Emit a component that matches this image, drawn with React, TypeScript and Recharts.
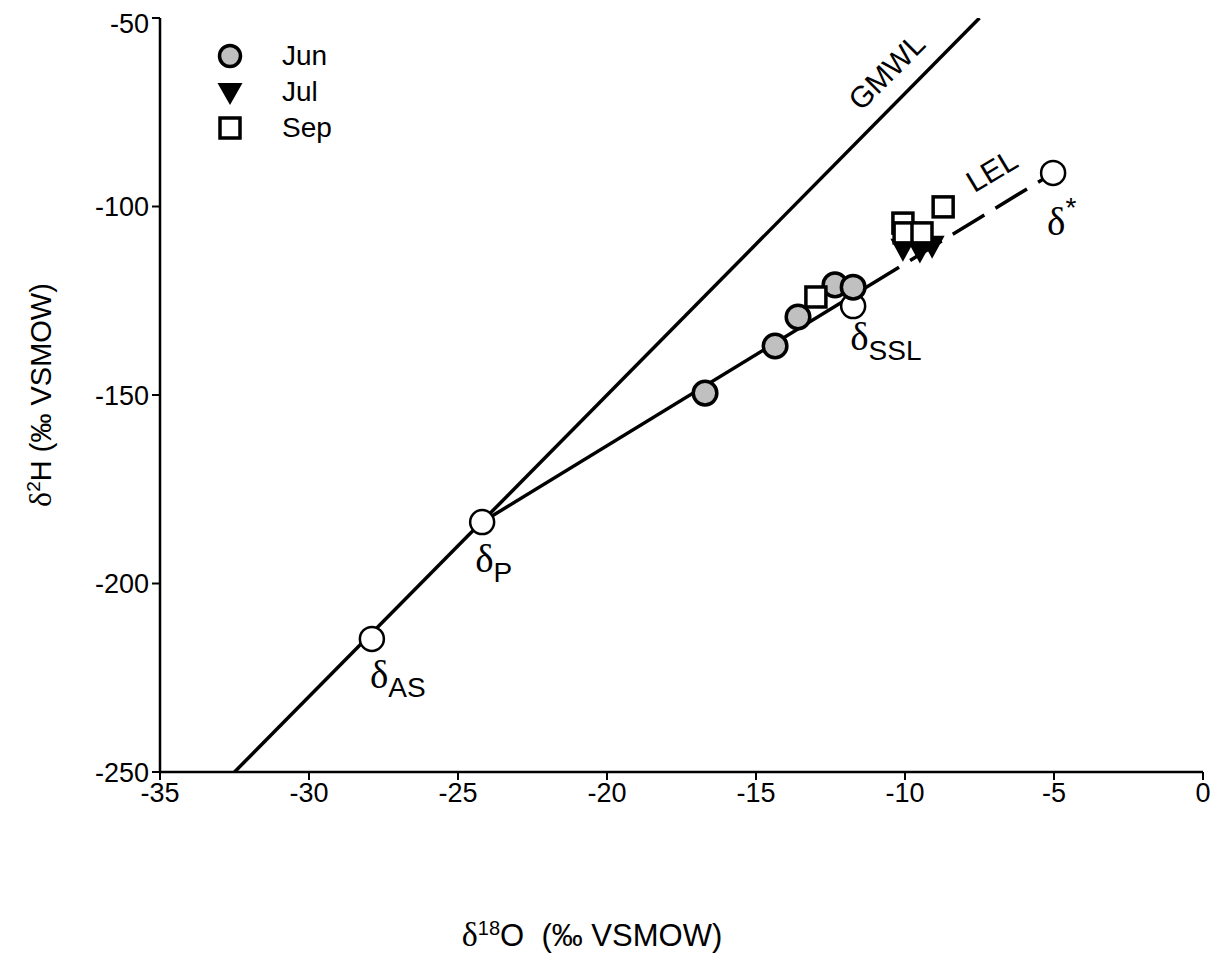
import React from 'react';
import { ComposedChart, Scatter, Line, XAxis, YAxis } from 'recharts';

const X_TICKS = [-35, -30, -25, -20, -15, -10, -5, 0];
const Y_TICKS = [-250, -200, -150, -100, -50];

const JUN = [
  { x: -16.71, y: -149.5 },
  { x: -14.36, y: -137.0 },
  { x: -13.59, y: -129.3 },
  { x: -12.35, y: -120.8 },
  { x: -11.74, y: -121.4 },
];
const JUL = [
  { x: -10.07, y: -111.2 },
  { x: -9.5, y: -111.7 },
  { x: -9.09, y: -110.4 },
];
const SEP = [
  { x: -12.99, y: -124.0 },
  { x: -10.07, y: -104.4 },
  { x: -10.03, y: -107.0 },
  { x: -9.43, y: -107.0 },
  { x: -8.72, y: -100.1 },
];
const END_MEMBERS = [
  { x: -27.89, y: -214.7, name: 'AS' },
  { x: -24.19, y: -183.7, name: 'P' },
  { x: -11.74, y: -126.4, name: 'SSL' },
  { x: -5.03, y: -91.1, name: '*' },
];
const GMWL = [
  { x: -32.5, y: -250 },
  { x: -7.5, y: -50 },
];
const LEL_SOLID = [
  { x: -24.19, y: -183.7 },
  { x: -10.2, y: -116.1 },
];
const LEL_DASHED = [
  { x: -10.2, y: -116.1 },
  { x: -5.03, y: -91.1 },
];

const SANS = 'Arial, "Liberation Sans", sans-serif';
const SERIF = '"Times New Roman", "Liberation Serif", serif';

// where each delta label sits relative to its point
const LABEL_POS: Record<string, { dx: number; dy: number; sub: number }> = {
  AS: { dx: -2, dy: 49, sub: 9 },
  P: { dx: -7, dy: 50, sub: 10 },
  SSL: { dx: -3, dy: 44, sub: 10 },
  '*': { dx: -6, dy: 62, sub: -18 },
};

const JunDot = (p: any) => (
  <circle cx={p.cx} cy={p.cy} r={11.8} fill="#c0c0c0" stroke="#000" strokeWidth={3.5} />
);

const JulDot = (p: any) => (
  <polygon
    points={`${p.cx - 12.5},${p.cy - 10} ${p.cx + 12.5},${p.cy - 10} ${p.cx},${p.cy + 13}`}
    fill="#000"
  />
);

const SepDot = (p: any) => (
  <rect x={p.cx - 10} y={p.cy - 10} width={20} height={20} fill="#fff" stroke="#000" strokeWidth={3.5} />
);

const MemberDot = (p: any) => {
  const name = p.payload?.name ?? p.name;
  const pos = LABEL_POS[name];
  return (
    <g>
      <circle cx={p.cx} cy={p.cy} r={12} fill="#fff" stroke="#000" strokeWidth={2.5} />
      {pos && (
        <text x={p.cx + pos.dx} y={p.cy + pos.dy} fontFamily={SERIF} fontSize={39} fill="#000">
          δ
          <tspan fontFamily={SANS} fontSize={28} dy={pos.sub}>
            {name}
          </tspan>
        </text>
      )}
    </g>
  );
};

const tickStyle = { fill: '#000', fontSize: 27, fontFamily: SANS };

function LegendBox() {
  const row = (icon: React.ReactNode, label: string, top: number) => (
    <div style={{ position: 'absolute', left: 208, top: top - 14, height: 28, display: 'flex', alignItems: 'center' }}>
      <svg width={28} height={28}>{icon}</svg>
      <span style={{ marginLeft: 38, fontSize: 28, fontFamily: SANS }}>{label}</span>
    </div>
  );
  return (
    <>
      {row(<circle cx={14} cy={14} r={10.5} fill="#c0c0c0" stroke="#000" strokeWidth={3.5} />, 'Jun', 48)}
      {row(<polygon points="1.5,5 26.5,5 14,27" fill="#000" />, 'Jul', 84)}
      {row(<rect x={4} y={4} width={20} height={20} fill="#fff" stroke="#000" strokeWidth={3.5} />, 'Sep', 120)}
    </>
  );
}

export default function App() {
  return (
    <div style={{ position: 'relative', width: 1211, height: 947, fontFamily: SANS }}>
      <ComposedChart
        width={1211}
        height={947}
        margin={{ top: 10, right: 16, left: 92, bottom: 153 }}
      >
        <XAxis
          type="number"
          dataKey="x"
          domain={[-35, 0]}
          ticks={X_TICKS}
          allowDataOverflow
          height={30}
          tickSize={8}
          tickMargin={3}
          tick={tickStyle}
          axisLine={{ stroke: '#000', strokeWidth: 2.5 }}
          tickLine={{ stroke: '#000', strokeWidth: 2 }}
        />
        <YAxis
          type="number"
          dataKey="y"
          domain={[-250, -50]}
          ticks={Y_TICKS}
          allowDataOverflow
          width={60}
          tickSize={8}
          tickMargin={3}
          tick={tickStyle}
          axisLine={{ stroke: '#000', strokeWidth: 2.5 }}
          tickLine={{ stroke: '#000', strokeWidth: 2 }}
        />
        <Line data={GMWL} dataKey="y" type="linear" stroke="#000" strokeWidth={3.5} dot={false} isAnimationActive={false} />
        <Line data={LEL_SOLID} dataKey="y" type="linear" stroke="#000" strokeWidth={3.5} dot={false} isAnimationActive={false} />
        <Line
          data={LEL_DASHED}
          dataKey="y"
          type="linear"
          stroke="#000"
          strokeWidth={3.5}
          strokeDasharray="37 13"
          strokeDashoffset={37}
          dot={false}
          isAnimationActive={false}
        />
        <Scatter data={END_MEMBERS} dataKey="y" shape={MemberDot} isAnimationActive={false} />
        <Scatter data={JUN} dataKey="y" shape={JunDot} isAnimationActive={false} />
        <Scatter data={JUL} dataKey="y" shape={JulDot} isAnimationActive={false} />
        <Scatter data={SEP} dataKey="y" shape={SepDot} isAnimationActive={false} />
      </ComposedChart>

      <LegendBox />

      <div
        style={{
          position: 'absolute', left: 887 - 8, top: 72 - 8, fontSize: 30,
          transform: 'translate(-50%, -50%) rotate(-45deg)', whiteSpace: 'nowrap',
        }}
      >
        GMWL
      </div>
      <div
        style={{
          position: 'absolute', left: 992 - 8, top: 171 - 8, fontSize: 30,
          transform: 'translate(-50%, -50%) rotate(-31deg)', whiteSpace: 'nowrap',
        }}
      >
        LEL
      </div>

      <div
        style={{
          position: 'absolute', left: 40 - 8, top: 395 - 8, fontSize: 29,
          transform: 'translate(-50%, -50%) rotate(-90deg)', whiteSpace: 'nowrap',
        }}
      >
        <span style={{ fontFamily: SERIF, fontSize: 32 }}>δ</span>
        <span style={{ fontSize: 19, verticalAlign: 'super' }}>2</span>H (‰ VSMOW)
      </div>
      <div
        style={{
          position: 'absolute', left: 592 - 8, top: 935 - 8, fontSize: 31,
          transform: 'translate(-50%, -50%)', whiteSpace: 'nowrap',
        }}
      >
        <span style={{ fontFamily: SERIF, fontSize: 34 }}>δ</span>
        <span style={{ fontSize: 20, verticalAlign: 'super' }}>18</span>O&nbsp;&nbsp;(‰ VSMOW)
      </div>
    </div>
  );
}
